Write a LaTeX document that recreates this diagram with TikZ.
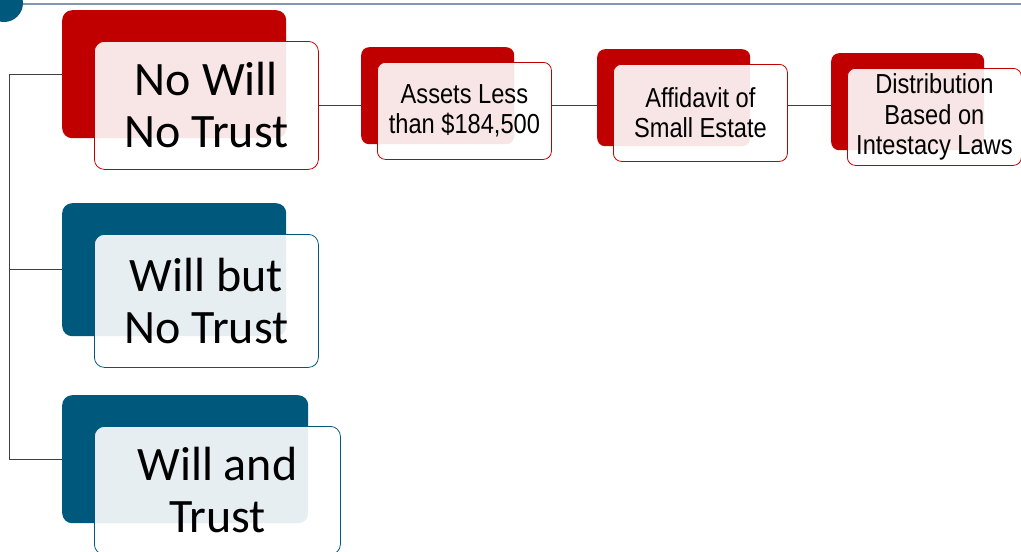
\documentclass[tikz,border=0pt]{standalone}
\usepackage{fontspec}
\setmainfont{Carlito}
\newfontfamily\narrowfont[FakeStretch=0.86]{Liberation Sans}
\usetikzlibrary{positioning}
\definecolor{darkred}{HTML}{C00000}
\definecolor{petrol}{HTML}{00587C}
\definecolor{rulegrey}{HTML}{8497B0}
\definecolor{linkgrey}{HTML}{404040}

\begin{document}
\begin{tikzpicture}[x=1pt, y=-1pt,
back/.style = {rectangle, rounded corners=10pt, fill=#1,
	inner sep=0pt, anchor=north west},
front/.style = {rectangle, rounded corners=10pt, draw=#1,
	line width=0.8pt, fill=white, fill opacity=0.9, text opacity=1,
	inner sep=0pt, align=center,
	font=\fontsize{48}{52}\selectfont},
sback/.style = {back=darkred, rounded corners=8pt,
	minimum width=153pt, minimum height=97pt},
sfront/.style = {front=darkred, rounded corners=8pt,
	minimum width=174pt, minimum height=97pt,
	font=\narrowfont\fontsize{27.5}{30.5}\selectfont},
dot/.style = {circle, fill=petrol, minimum size=38pt, inner sep=0pt},
link/.style = {draw=linkgrey, line width=0.8pt}
]
\useasboundingbox (0,0) rectangle (1021,552);
% Draw the top rule with its dot
\draw[rulegrey, line width=1.6pt] (4,4) -- (1021,4);
\node[dot] (dot) at (4,3) {};
% Draw the three main cases
\foreach \i/\y/\c/\w/\h/\txt in {1/10/darkred/224/128/{No Will\\No Trust},
	2/203/petrol/224/133/{Will but\\No Trust},
	3/395/petrol/246/128/{Will and\\Trust}}
{
	\node[back=\c, minimum width=\w pt, minimum height=\h pt] (B-\i) at (62,\y) {};
	\node[front=\c, minimum width=\w pt, minimum height=\h pt,
	below right=31pt and 32pt of B-\i.north west] (F-\i) {\txt};
}
% Draw the steps for the first case
\foreach \i/\x/\y/\txt in {1/361/47/{Assets Less\\than \$184,500},
	2/597/49/{Affidavit of\\Small Estate},
	3/831/53/{Distribution\\Based on\\Intestacy Laws}}
{
	\node[sback] (SB-\i) at (\x,\y) {};
	\node[sfront, below right=15pt and 16pt of SB-\i.north west] (SF-\i) {\txt};
}

% Connect the cases with the trunk and
%  the first case with its steps
\coordinate (trunk) at (9,0);
\draw[link] (B-1.west -| trunk) |- (B-3.west);
\draw[link] (B-1.west -| trunk) -- (B-1.west);
\draw[link] (B-2.west -| trunk) -- (B-2.west);
\draw[link] (F-1.east) -- (F-1.east -| SB-1.west);
\foreach \i [count=\j from 2] in {1,2}
\draw[link] (F-1.east -| SF-\i.east) -- (F-1.east -| SB-\j.west);
\end{tikzpicture}
\end{document}
